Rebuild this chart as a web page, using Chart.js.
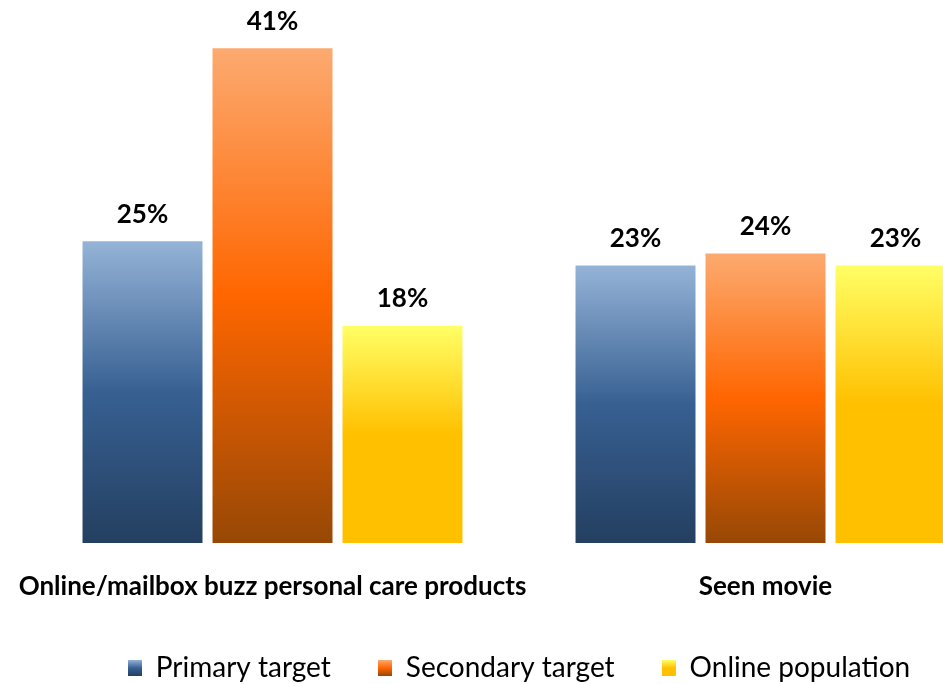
<!DOCTYPE html>
<html>
<head>
<meta charset="utf-8">
<script src="https://cdn.jsdelivr.net/npm/chart.js@4.4.1/dist/chart.umd.min.js"></script>
<style>
  html, body { margin: 0; padding: 0; background: #fff; overflow: hidden; }
  #wrap { width: 1022px; height: 684px; }
</style>
</head>
<body>
<div id="wrap"><canvas id="chart" width="1022" height="684"></canvas></div>
<script>
const categories = ["Online/mailbox buzz personal care products", "Seen movie"];
const seriesNames = ["Primary target", "Secondary target", "Online population"];
const primaryTarget = [25, 23];
const secondaryTarget = [41, 24];
const onlinePopulation = [18, 23];

// top / middle / bottom colours of each series gradient
const palettes = [
  ["#95b3d7", "#376092", "#243f60"],
  ["#fcaa70", "#ff6600", "#974806"],
  ["#ffff66", "#ffc000", "#ffc000"],
];

const FONT = "Lato";

function barGradient(context, stops) {
  const chart = context.chart;
  const { ctx, chartArea, scales } = chart;
  if (!chartArea || !scales.y) return stops[1];
  const top = scales.y.getPixelForValue(context.raw);
  const bottom = scales.y.getPixelForValue(0);
  const g = ctx.createLinearGradient(0, top, 0, bottom);
  g.addColorStop(0, stops[0]);
  g.addColorStop(0.5, stops[1]);
  g.addColorStop(1, stops[2]);
  return g;
}

// small gradient squares for the legend
function legendSwatch(stops) {
  const c = document.createElement("canvas");
  c.width = 14;
  c.height = 16;
  const x = c.getContext("2d");
  const g = x.createLinearGradient(0, 0, 0, 16);
  g.addColorStop(0, stops[0]);
  g.addColorStop(0.5, stops[1]);
  g.addColorStop(1, stops[2]);
  x.fillStyle = g;
  x.fillRect(0, 0, 14, 16);
  return c;
}

const valueLabels = {
  id: "valueLabels",
  afterDatasetsDraw(chart) {
    const ctx = chart.ctx;
    ctx.save();
    ctx.font = "bold 26px " + FONT;
    ctx.fillStyle = "#000";
    ctx.textAlign = "center";
    ctx.textBaseline = "middle";
    chart.data.datasets.forEach((ds, i) => {
      chart.getDatasetMeta(i).data.forEach((bar, j) => {
        ctx.fillText(ds.data[j] + "%", bar.x, bar.y - 27);
      });
    });
    ctx.restore();
  },
};

const seriesData = [primaryTarget, secondaryTarget, onlinePopulation];

new Chart(document.getElementById("chart"), {
  type: "bar",
  data: {
    labels: categories,
    datasets: seriesData.map((d, i) => ({
      label: seriesNames[i],
      data: d,
      backgroundColor: (context) => barGradient(context, palettes[i]),
      borderWidth: 0,
      categoryPercentage: 0.791,
      barPercentage: 0.923,
    })),
  },
  options: {
    responsive: false,
    devicePixelRatio: 1,
    animation: false,
    layout: { padding: { left: 26, right: 10, top: 0, bottom: 0 } },
    scales: {
      x: {
        grid: { display: false, drawTicks: false },
        border: { display: false },
        ticks: {
          color: "#000",
          padding: 28,
          autoSkip: false,
          maxRotation: 0,
          minRotation: 0,
          font: { family: FONT, size: 26, weight: "bold" },
        },
        // short axis band so the legend sits close under it; long labels may overhang
        afterFit: (scale) => {
          scale.height = 64;
          scale.paddingLeft = 0;
          scale.paddingRight = 0;
        },
      },
      y: {
        display: false,
        min: 0,
        max: 45,
      },
    },
    plugins: {
      tooltip: { enabled: false },
      legend: {
        position: "bottom",
        maxHeight: 77,
        labels: {
          color: "#000",
          font: { family: FONT, size: 28 },
          usePointStyle: true,
          pointStyleWidth: 14,
          padding: 47,
          generateLabels: (chart) =>
            chart.data.datasets.map((ds, i) => ({
              text: ds.label,
              pointStyle: legendSwatch(palettes[i]),
              fontColor: "#000",
              datasetIndex: i,
              lineWidth: 0,
              hidden: false,
            })),
        },
      },
    },
  },
  plugins: [valueLabels],
});
</script>
</body>
</html>
